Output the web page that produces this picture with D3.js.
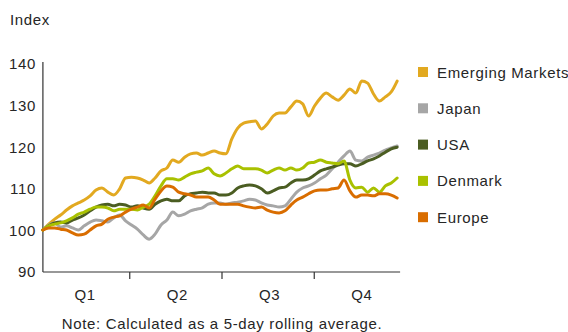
<!DOCTYPE html>
<html>
<head>
<meta charset="utf-8">
<script src="https://cdn.jsdelivr.net/npm/d3@7"></script>
<style>
  html, body { margin: 0; padding: 0; background: #fff; }
  svg { display: block; font-family: "Liberation Sans", Arial, sans-serif; }
  svg text { letter-spacing: 0.65px; }
</style>
</head>
<body>
<svg id="chart" width="568" height="332"></svg>
<script>
// Trading days (5-day rolling average, sampled every 4 trading days)
const days = d3.range(4, 245, 4);
const quarterLength = 62.5;
const quarters = ["Q1", "Q2", "Q3", "Q4"];
const yTicks = [90, 100, 110, 120, 130, 140];

const seriesNames = ["Emerging Markets", "Japan", "USA", "Denmark", "Europe"];
const seriesColors = ["#E2A920", "#A6A6A6", "#4B5D22", "#A9C100", "#D96D00"];

const emergingMarkets = [100.1, 101.5, 102.7, 103.7, 104.9, 105.9, 106.6, 107.3, 108.3, 109.7,
  110.2, 109.2, 108.5, 110.0, 112.6, 112.8, 112.6, 112.1, 111.4, 112.6,
  114.3, 115.0, 116.9, 116.4, 117.6, 118.4, 118.6, 118.1, 118.6, 119.1,
  118.6, 118.4, 122.0, 124.6, 125.8, 126.1, 126.3, 124.4, 125.6, 127.5,
  128.2, 128.2, 129.7, 131.1, 130.4, 127.5, 129.9, 131.8, 133.0, 132.1,
  131.3, 132.5, 134.0, 133.0, 135.9, 135.4, 132.8, 131.1, 132.1, 133.3, 135.9];

const japan = [100.1, 101.3, 101.8, 100.8, 101.1, 100.6, 100.1, 101.1, 102.0, 102.5,
  102.3, 102.0, 103.0, 103.7, 102.3, 101.3, 100.3, 98.9, 97.9, 99.1,
  101.3, 102.5, 104.4, 103.5, 103.9, 104.7, 105.1, 105.4, 106.3, 106.6,
  106.6, 106.3, 106.6, 106.8, 107.1, 107.5, 107.3, 106.6, 106.1, 105.9,
  105.6, 105.9, 107.5, 109.2, 110.2, 110.7, 111.4, 112.4, 113.3, 114.8,
  116.4, 117.9, 119.1, 116.9, 116.7, 117.6, 118.1, 118.6, 119.3, 119.8, 120.3];

const usa = [100.1, 101.1, 101.8, 102.0, 101.8, 102.5, 103.0, 103.7, 104.7, 105.6,
  106.1, 106.3, 105.9, 106.3, 106.1, 105.6, 105.9, 105.4, 105.1, 106.3,
  107.1, 107.5, 107.1, 107.1, 108.3, 108.8, 109.0, 109.2, 109.0, 109.0,
  108.5, 108.5, 109.0, 110.2, 110.7, 110.9, 110.7, 110.0, 109.0, 109.5,
  110.2, 110.4, 111.4, 112.1, 112.1, 112.4, 113.3, 114.3, 114.8, 115.2,
  115.7, 116.0, 116.0, 115.5, 116.0, 116.7, 117.2, 117.9, 118.8, 119.6, 120.0];

const denmark = [100.1, 101.1, 101.5, 101.8, 102.3, 103.0, 103.9, 104.4, 105.1, 105.6,
  105.6, 105.4, 104.7, 105.1, 105.1, 105.1, 104.9, 105.6, 106.3, 108.3,
  110.7, 112.4, 112.4, 112.1, 112.8, 113.6, 114.0, 114.3, 115.0, 113.6,
  113.1, 113.8, 114.8, 115.5, 114.8, 114.8, 114.8, 114.5, 113.8, 114.5,
  115.0, 114.5, 115.0, 114.5, 115.0, 116.2, 116.4, 116.9, 116.4, 116.2,
  116.0, 116.7, 112.1, 110.2, 110.4, 109.2, 110.2, 109.2, 110.7, 111.4, 112.6];

const europe = [100.1, 100.6, 100.6, 100.3, 100.1, 99.4, 98.9, 99.1, 100.1, 101.1,
  101.5, 102.7, 103.2, 103.5, 104.4, 105.1, 105.6, 106.1, 105.4, 107.5,
  109.5, 110.7, 110.4, 109.2, 108.8, 108.5, 108.0, 108.0, 108.0, 107.3,
  106.3, 106.3, 106.3, 106.3, 105.9, 105.6, 105.4, 105.6, 104.9, 104.4,
  104.2, 104.7, 106.1, 107.3, 108.0, 108.8, 109.5, 109.7, 109.7, 110.0,
  110.2, 112.1, 109.5, 108.0, 108.5, 108.5, 108.3, 108.8, 108.8, 108.5, 107.8];

const seriesValues = [emergingMarkets, japan, usa, denmark, europe];

const svg = d3.select("#chart");
const textColor = "#262626";
const axisColor = "#333";

const x = d3.scaleLinear().domain([0, 4 * quarterLength]).range([37, 406]);
const y = d3.scaleLinear().domain([90, 140]).range([272, 64]);

// Axis title
svg.append("text")
  .attr("x", 10).attr("y", 25)
  .attr("font-size", 15).attr("fill", textColor)
  .text("Index");

// Y axis: line plus labels, no tick marks
const yAxis = d3.axisLeft(y).tickValues(yTicks).tickSize(0).tickPadding(7);
const gy = svg.append("g").attr("transform", `translate(${x(days[0])},0)`).call(yAxis);
gy.select(".domain").remove();
gy.selectAll("text").attr("font-size", 15).attr("fill", textColor)
  .attr("font-family", "Liberation Sans, Arial, sans-serif");
svg.append("line")
  .attr("x1", x(days[0])).attr("x2", x(days[0]))
  .attr("y1", y(140) - 2).attr("y2", y(90))
  .attr("stroke", axisColor).attr("stroke-width", 1.2);

// X axis: quarter boundaries as ticks, quarter names centred in each quarter
const xAxis = d3.axisBottom(x)
  .tickValues([1, 2, 3].map(q => q * quarterLength))
  .tickSize(7).tickSizeOuter(0).tickFormat("");
const gx = svg.append("g").attr("transform", `translate(0,${y(90)})`).call(xAxis);
gx.select(".domain").remove();
gx.selectAll(".tick line").attr("stroke", axisColor).attr("stroke-width", 1.2);
svg.append("line")
  .attr("x1", x(days[0])).attr("x2", x(days[days.length - 1] + 2))
  .attr("y1", y(90)).attr("y2", y(90))
  .attr("stroke", axisColor).attr("stroke-width", 1.2);

svg.append("g").selectAll("text")
  .data(quarters)
  .join("text")
  .attr("x", (d, i) => x((i + 0.5) * quarterLength) + 2)
  .attr("y", y(90) + 28)
  .attr("text-anchor", "middle")
  .attr("font-size", 15).attr("fill", textColor)
  .text(d => d);

// Series lines
const line = d3.line()
  .x((d, i) => x(days[i]))
  .y(d => y(d))
  .curve(d3.curveMonotoneX);

svg.append("g").selectAll("path")
  .data(seriesValues)
  .join("path")
  .attr("d", d => line(d))
  .attr("fill", "none")
  .attr("stroke", (d, i) => seriesColors[i])
  .attr("stroke-width", 3)
  .attr("stroke-linejoin", "round")
  .attr("stroke-linecap", "round");

// Legend
const legend = svg.append("g").selectAll("g")
  .data(seriesNames)
  .join("g")
  .attr("transform", (d, i) => `translate(418,${72 + i * 36.3})`);
legend.append("rect")
  .attr("x", 0).attr("y", -5).attr("width", 10).attr("height", 10)
  .attr("fill", (d, i) => seriesColors[i]);
legend.append("text")
  .attr("x", 19).attr("y", 5.5)
  .attr("font-size", 15).attr("fill", textColor)
  .text(d => d);

// Footnote
svg.append("text")
  .attr("x", 222).attr("y", 329)
  .attr("text-anchor", "middle")
  .attr("font-size", 15).attr("fill", textColor)
  .text("Note: Calculated as a 5-day rolling average.");
</script>
</body>
</html>
